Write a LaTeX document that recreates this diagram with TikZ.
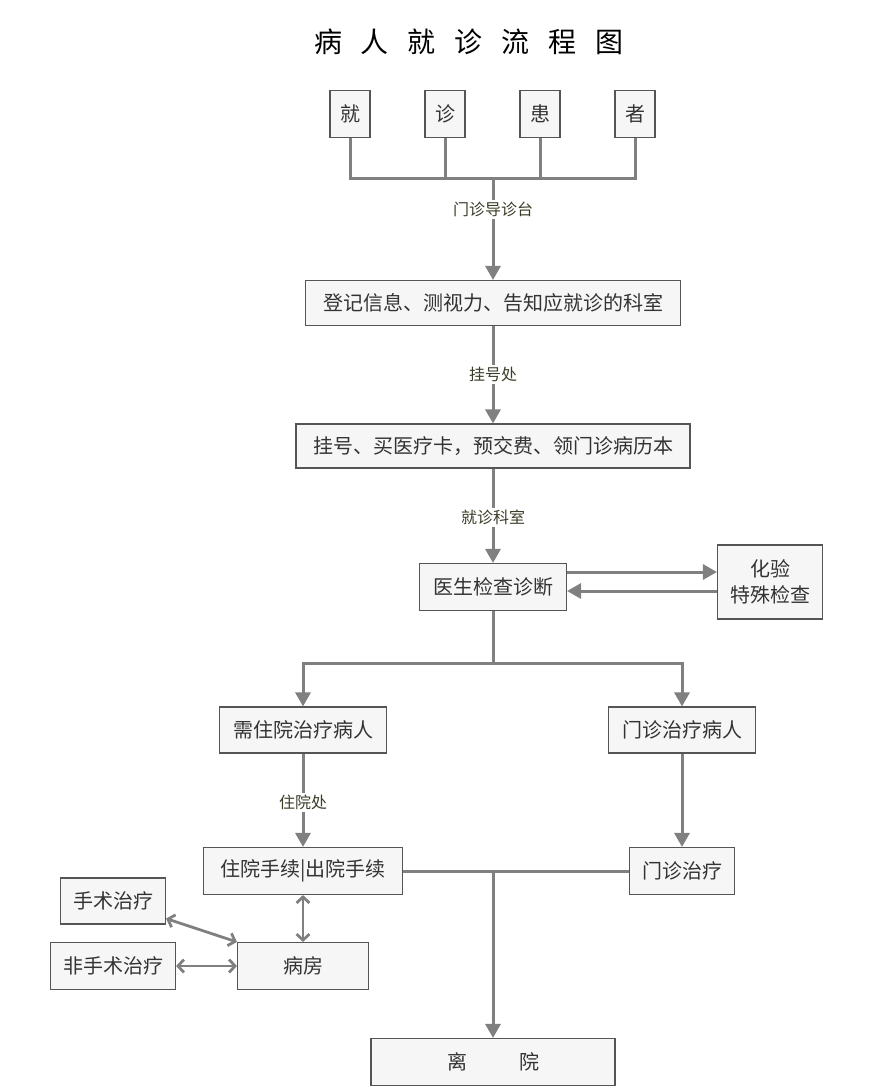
\documentclass[tikz,border=0pt]{standalone}
\usepackage{fontspec}
\setmainfont{Noto Sans CJK SC}
\usetikzlibrary{arrows.meta}
\definecolor{boxline}{RGB}{85,85,85}
\definecolor{boxfill}{RGB}{246,246,246}
\definecolor{wire}{RGB}{128,128,128}
\definecolor{labtext}{RGB}{60,60,40}
\begin{document}
\begin{tikzpicture}[
  x=1pt, y=-1pt,
  every node/.style={font=\fontsize{20}{26}\selectfont, align=center, text=black!80},
  box/.style={draw=boxline, fill=boxfill, line width=1.1pt, inner sep=0pt},
  wireline/.style={draw=wire, line width=3pt},
  arr/.style={wireline, -{Triangle[length=14pt,width=15pt]}},
  darr/.style={draw=wire, line width=2.8pt, {Straight Barb[length=6pt,width=13pt]}-{Straight Barb[length=6pt,width=13pt]}},
  lab/.style={fill=white, text=labtext, font=\fontsize{16}{18}\selectfont, inner sep=2pt}
]
\useasboundingbox (0,0) rectangle (868,1090);
\node (title) at (469,42) {\fontsize{28}{32}\selectfont\color{black}病\hspace{19pt}人\hspace{19pt}就\hspace{19pt}诊\hspace{19pt}流\hspace{19pt}程\hspace{19pt}图};
\node[box, minimum width=40pt, minimum height=47pt] (jiu) at (350,114) {就};
\node[box, minimum width=40pt, minimum height=47pt] (zhen) at (445,114) {诊};
\node[box, minimum width=40pt, minimum height=47pt] (huan) at (540,114) {患};
\node[box, minimum width=40pt, minimum height=47pt] (zhe) at (635,114) {者};
\coordinate (join) at (493,178);
\node[box, minimum width=375pt, minimum height=45pt] (reg) at (493,303) {登记信息、测视力、告知应就诊的科室};
\node[box, minimum width=394pt, minimum height=44pt] (pay) at (493,446) {挂号、买医疗卡，预交费、领门诊病历本};
\node[box, minimum width=147pt, minimum height=47pt] (diag) at (493,587) {医生检查诊断};
\node[box, minimum width=105pt, minimum height=74pt] (test) at (770,582) {化验\\特殊检查};
\coordinate (split) at (493,663);
\node[box, minimum width=167pt, minimum height=46pt] (inpat) at (303,730) {需住院治疗病人};
\node[box, minimum width=147pt, minimum height=46pt] (outpat) at (682,730) {门诊治疗病人};
\node[box, minimum width=199pt, minimum height=47pt] (proc) at (303,871) {住院手续|出院手续};
\node[box, minimum width=105pt, minimum height=47pt] (clinic) at (682,871) {门诊治疗};
\node[box, minimum width=131pt, minimum height=47pt] (ward) at (303,966) {病房};
\node[box, minimum width=105pt, minimum height=46pt] (surg) at (113,901) {手术治疗};
\node[box, minimum width=125pt, minimum height=47pt] (nonsurg) at (113,966) {非手术治疗};
\coordinate (merge) at (493,871);
\node[box, minimum width=244pt, minimum height=47pt] (leave) at (493,1062) {离\hspace{52pt}院};
\draw[wireline] (jiu.south) |- (zhe.south |- join) -- (zhe.south);
\draw[wireline] (zhen.south) -- (zhen.south |- join);
\draw[wireline] (huan.south) -- (huan.south |- join);
\draw[arr] (join) -- node[lab, pos=0.31] {门诊导诊台} (reg.north);
\draw[arr] (reg.south) -- node[lab, pos=0.5] {挂号处} (pay.north);
\draw[arr] (pay.south) -- node[lab, pos=0.52] {就诊科室} (diag.north);
\draw[arr] ([yshift=15pt]diag.east) -- ([yshift=15pt]diag.east -| test.west);
\draw[arr] ([yshift=-4pt]diag.east -| test.west) -- ([yshift=-4pt]diag.east);
\draw[wireline] (diag.south) -- (split);
\draw[arr] (split) -| (inpat.north);
\draw[arr] (split) -| (outpat.north);
\draw[arr] (inpat.south) -- node[lab, pos=0.52] {住院处} (proc.north);
\draw[arr] (outpat.south) -- (clinic.north);
\draw[wireline] (proc.east) -- (merge) -- (clinic.west);
\draw[arr] (merge) -- (leave.north);
\draw[darr] (proc.south) -- (ward.north);
\draw[darr] ([yshift=6pt]surg.south east) -- (ward.north west);
\draw[darr] (nonsurg.east) -- (ward.west);
\end{tikzpicture}
\end{document}
